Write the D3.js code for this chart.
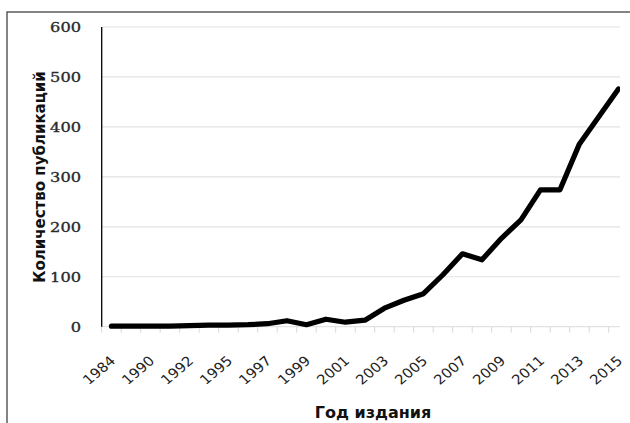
<!DOCTYPE html>
<html>
<head>
<meta charset="utf-8">
<script src="https://cdn.jsdelivr.net/npm/d3@7"></script>
<style>
  body { margin: 0; background: #fff; }
  svg { display: block; }
</style>
</head>
<body>
<svg width="630" height="423"></svg>
<script>
// years on the category axis (only every other one is labelled)
var years = ["1984", "1987", "1990", "1991", "1992", "1993", "1995", "1996", "1997", "1998",
             "1999", "2000", "2001", "2002", "2003", "2004", "2005", "2006", "2007", "2008",
             "2009", "2010", "2011", "2012", "2013", "2014", "2015"];
// number of publications per year
var counts = [1, 1, 1, 1, 2, 3, 3, 4, 6, 12,
              4, 15, 9, 13, 37, 53, 66, 104, 146, 134,
              177, 214, 274, 274, 366, 421, 476];
var yTicks = [0, 100, 200, 300, 400, 500, 600];

var data = years.map(function(y, i) { return { year: y, value: counts[i] }; });

var svg = d3.select("svg");

// chart outline (cropped on the right and bottom in the original)
svg.append("rect")
  .attr("x", 7).attr("y", 12)
  .attr("width", 700).attr("height", 500)
  .attr("fill", "#fff")
  .attr("stroke", "#444")
  .attr("stroke-width", 1.3);

var left = 101.7, step = 19.5;
var x = d3.scaleBand()
  .domain(years)
  .range([left, left + step * years.length])
  .padding(0);
var y = d3.scaleLinear().domain([0, 600]).range([326.7, 27]);

svg.append("clipPath").attr("id", "plot")
  .append("rect").attr("x", 0).attr("y", 0).attr("width", 620).attr("height", 423);

var g = svg.append("g").attr("clip-path", "url(#plot)");

// gridlines
g.selectAll(".grid")
  .data(yTicks)
  .enter().append("line")
  .attr("x1", left).attr("x2", left + step * years.length)
  .attr("y1", function(d) { return y(d); })
  .attr("y2", function(d) { return y(d); })
  .attr("stroke", "#e2e2e2")
  .attr("stroke-width", 1.2);

// category tick marks between categories
g.selectAll(".tick")
  .data(years)
  .enter().append("line")
  .attr("x1", function(d) { return x(d); })
  .attr("x2", function(d) { return x(d); })
  .attr("y1", y(0)).attr("y2", y(0) + 6)
  .attr("stroke", "#d8d8d8")
  .attr("stroke-width", 1);

// y axis line
svg.append("line")
  .attr("x1", left).attr("x2", left)
  .attr("y1", y(600)).attr("y2", y(0))
  .attr("stroke", "#000")
  .attr("stroke-width", 1.3);

var line = d3.line()
  .x(function(d) { return x(d.year) + x.bandwidth() / 2; })
  .y(function(d) { return y(d.value); });

g.append("path")
  .datum(data)
  .attr("fill", "none")
  .attr("stroke", "#000")
  .attr("stroke-width", 5.2)
  .attr("stroke-linejoin", "round")
  .attr("stroke-linecap", "round")
  .attr("d", line);

// y tick labels
svg.selectAll(".ylab")
  .data(yTicks)
  .enter().append("text")
  .attr("transform", function(d) { return "translate(81," + y(d) + ") scale(1.2,1)"; })
  .attr("dy", "0.36em")
  .attr("text-anchor", "end")
  .style("font", "13.5px 'DejaVu Serif'")
  .attr("fill", "#2a2a2a")
  .attr("stroke", "#2a2a2a")
  .attr("stroke-width", 0.35)
  .text(function(d) { return d; });

// x tick labels, every other year
svg.selectAll(".xlab")
  .data(years.filter(function(d, i) { return i % 2 === 0; }))
  .enter().append("text")
  .attr("transform", function(d) {
    return "translate(" + (x(d) + x.bandwidth() / 2 + 5) + ",362) scale(1.1,1) rotate(-43)";
  })
  .attr("text-anchor", "end")
  .style("font", "13.5px 'DejaVu Sans'")
  .attr("fill", "#222")
  .text(function(d) { return d; });

// axis titles
svg.append("text")
  .attr("x", 373).attr("y", 418)
  .attr("text-anchor", "middle")
  .style("font", "bold 16px 'DejaVu Sans'")
  .attr("fill", "#111")
  .text("Год издания");

svg.append("text")
  .attr("transform", "translate(45,177) rotate(-90)")
  .attr("text-anchor", "middle")
  .style("font", "bold 15px 'DejaVu Sans'")
  .attr("fill", "#111")
  .text("Количество публикаций");
</script>
</body>
</html>
